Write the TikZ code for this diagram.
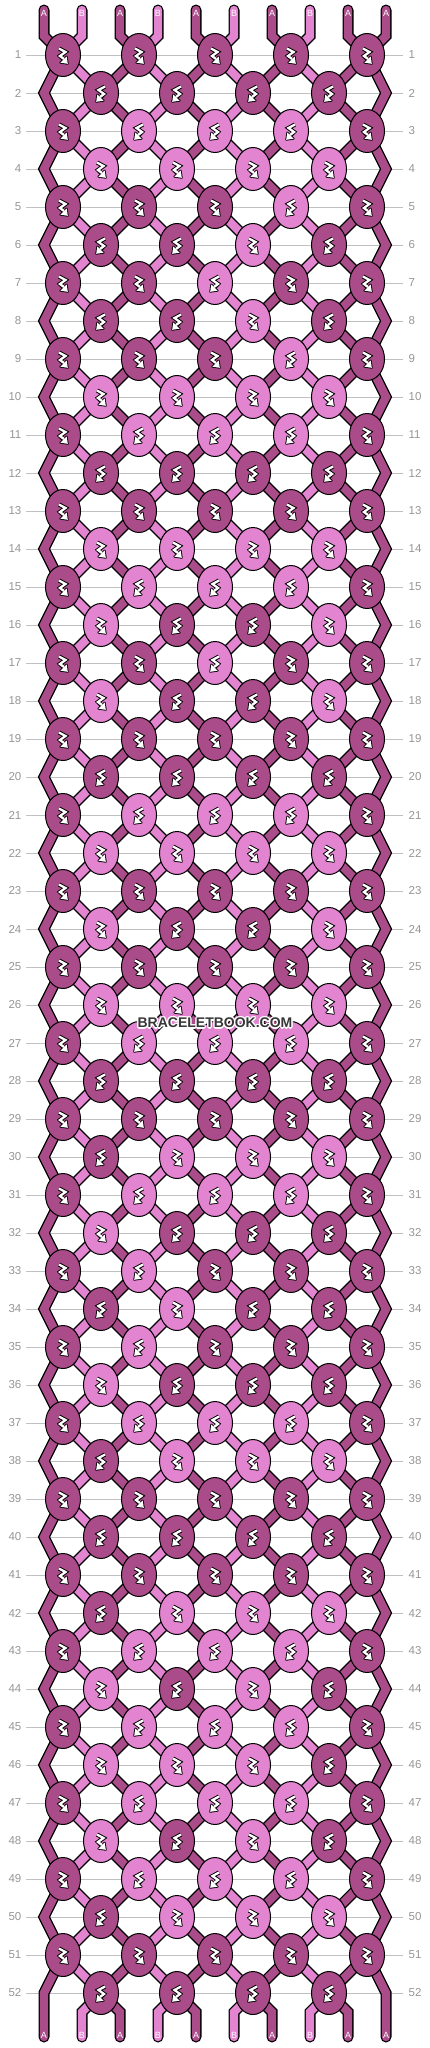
\documentclass[tikz,border=0pt]{standalone}
\usepackage{fontspec}
\setmainfont{Liberation Sans}
\usetikzlibrary{shapes.geometric}
\definecolor{colA}{RGB}{170,76,137}
\definecolor{colB}{RGB}{226,132,208}
\definecolor{rowgray}{RGB}{192,192,192}
\definecolor{numgray}{RGB}{150,150,150}
\definecolor{wmgray}{RGB}{55,55,55}
\begin{document}
\begin{tikzpicture}[x=1pt,y=-1pt,
  knot/.style={ellipse, draw=black, line width=1pt, minimum width=35pt, minimum height=43pt, inner sep=0pt},
  strout/.style={line width=11pt, black, line cap=round, line join=miter},
  strin/.style={line width=8.4pt, line cap=round, line join=miter},
  rowline/.style={rowgray, line width=1pt},
  rownum/.style={text=numgray, font=\fontsize{11.5}{11.5}\selectfont, inner sep=0pt},
  endlbl/.style={text=white, font=\fontsize{9}{9}\selectfont, inner sep=0pt},
  wm/.style={font=\bfseries\fontsize{14}{14}\selectfont, inner sep=0pt},
  fbg/.pic={
    \draw[black,line width=4.2pt,line join=miter,line cap=square] (-4,-6.5) -- (2.5,-3) -- (-3,1) -- (0.5,4.5);
    \filldraw[black,line width=1.8pt,line join=round] (4.8,8.8) -- (3.7,1.5) -- (-2.7,7.7) -- cycle;
    \draw[white,line width=2.3pt,line join=miter] (-4,-6.5) -- (2.5,-3) -- (-3,1) -- (1,4);
    \fill[white] (4.8,8.8) -- (3.7,1.5) -- (-2.7,7.7) -- cycle;
  },
  bfg/.pic={
    \draw[black,line width=4.2pt,line join=miter,line cap=square] (4,-6.5) -- (-2.5,-3) -- (3,1) -- (-0.5,4.5);
    \filldraw[black,line width=1.8pt,line join=round] (-4.8,8.8) -- (-3.7,1.5) -- (2.7,7.7) -- cycle;
    \draw[white,line width=2.3pt,line join=miter] (4,-6.5) -- (-2.5,-3) -- (3,1) -- (-1,4);
    \fill[white] (-4.8,8.8) -- (-3.7,1.5) -- (2.7,7.7) -- cycle;
  }]
\useasboundingbox (0,0) rectangle (430,2048);
\fill[white] (0,0) rectangle (430,2048);

% row lines and numbers
\foreach \r in {1,...,52}{
  \pgfmathsetmacro\ry{55+38*(\r-1)}
  \draw[rowline] (26,\ry) -- (403,\ry);
  \node[rownum, anchor=east] (ll-\r) at (21.5,\ry) {\r};
  \node[rownum, anchor=west] (rl-\r) at (408.5,\ry) {\r};
}

% string coordinates
\foreach \i in {0,...,9}{
  \pgfmathsetmacro\sxx{44+38*\i}
  \coordinate (t-\i) at (\sxx,10);
  \coordinate (tb-\i) at (\sxx,36);
  \coordinate (bb-\i) at (\sxx,2012);
  \coordinate (b-\i) at (\sxx,2037);
  \foreach \r in {1,...,52}{
    \pgfmathsetmacro\sx{isodd(\r) ? 63+76*floor(\i/2) : (\i==0 ? 44 : (\i==9 ? 386 : 101+76*floor((\i-1)/2)))}
    \pgfmathsetmacro\sy{55+38*(\r-1)}
    \coordinate (s-\i-\r) at (\sx,\sy);
  }
}

% strings: outlines then fills
\foreach \i in {0,...,9}{
  \draw[strout] (t-\i) -- (tb-\i) \foreach \r in {1,...,52}{ -- (s-\i-\r) } -- (bb-\i) -- (b-\i);
}
\foreach \i/\col in {0/colA,1/colB,2/colA,3/colB,4/colA,5/colB,6/colA,7/colB,8/colA,9/colA}{
  \draw[strin, \col] (t-\i) -- (tb-\i) \foreach \r in {1,...,52}{ -- (s-\i-\r) } -- (bb-\i) -- (b-\i);
}

% knots
\foreach \row [count=\r] in {
 {D,D,D,D,D},{D,D,D,D},{D,L,L,L,D},{L,L,L,L},{D,D,D,L,D},{D,D,L,D},{D,D,L,D,D},{D,D,L,D},
 {D,D,D,L,D},{L,L,L,L},{D,L,L,L,D},{D,D,D,D},{D,D,D,D,D},{L,L,L,L},{D,L,L,L,D},{L,D,D,L},
 {D,D,L,D,D},{L,D,D,L},{D,D,D,D,D},{D,D,D,D},{D,L,L,L,D},{L,L,L,L},{D,D,D,D,D},{L,D,D,L},
 {D,D,D,D,D},{L,L,L,L},{D,L,L,L,D},{D,D,D,D},{D,D,D,D,D},{D,L,L,L},{D,L,L,L,D},{L,D,D,D},
 {D,L,D,D,D},{D,L,D,D},{D,L,D,D,D},{L,D,D,D},{D,L,L,L,D},{D,L,L,L},{D,D,D,D,D},{D,D,D,D},
 {D,D,D,D,D},{D,L,L,L},{D,L,L,L,D},{L,D,L,D},{D,L,L,L,D},{L,L,L,D},{D,L,L,L,D},{L,D,L,D},
 {D,L,L,L,D},{D,L,L,L},{D,D,D,D,D},{D,D,D,D}}{
  \foreach \kc [count=\k] in \row {
    \pgfmathsetmacro\kx{isodd(\r) ? 63+76*(\k-1) : 101+76*(\k-1)}
    \pgfmathsetmacro\ky{55+38*(\r-1)}
    \ifodd\r\relax
      \if\kc D
        \node[knot, fill=colA] (k-\r-\k) at (\kx,\ky) {};
        \pic at (\kx,\ky) {fbg};
      \else
        \node[knot, fill=colB] (k-\r-\k) at (\kx,\ky) {};
        \pic at (\kx,\ky) {bfg};
      \fi
    \else
      \if\kc D
        \node[knot, fill=colA] (k-\r-\k) at (\kx,\ky) {};
        \pic at (\kx,\ky) {bfg};
      \else
        \node[knot, fill=colB] (k-\r-\k) at (\kx,\ky) {};
        \pic at (\kx,\ky) {fbg};
      \fi
    \fi
  }
}

% string end labels
\foreach \i/\lab in {0/A,1/B,2/A,3/B,4/A,5/B,6/A,7/B,8/A,9/A}{
  \pgfmathsetmacro\sxx{44+38*\i}
  \node[endlbl] (tl-\i) at (\sxx,13) {\lab};
  \node[endlbl] (bl-\i) at (\sxx,2035) {\lab};
}

% watermark
\foreach \dx/\dy [count=\n] in {-1.3/0,1.3/0,0/-1.3,0/1.3,-1/-1,1/-1,-1/1,1/1}{
  \node[wm, text=white] (wmh-\n) at (215+\dx,1023+\dy) {BRACELETBOOK.COM};
}
\node[wm, text=wmgray] (wmark) at (215,1023) {BRACELETBOOK.COM};
\end{tikzpicture}
\end{document}
